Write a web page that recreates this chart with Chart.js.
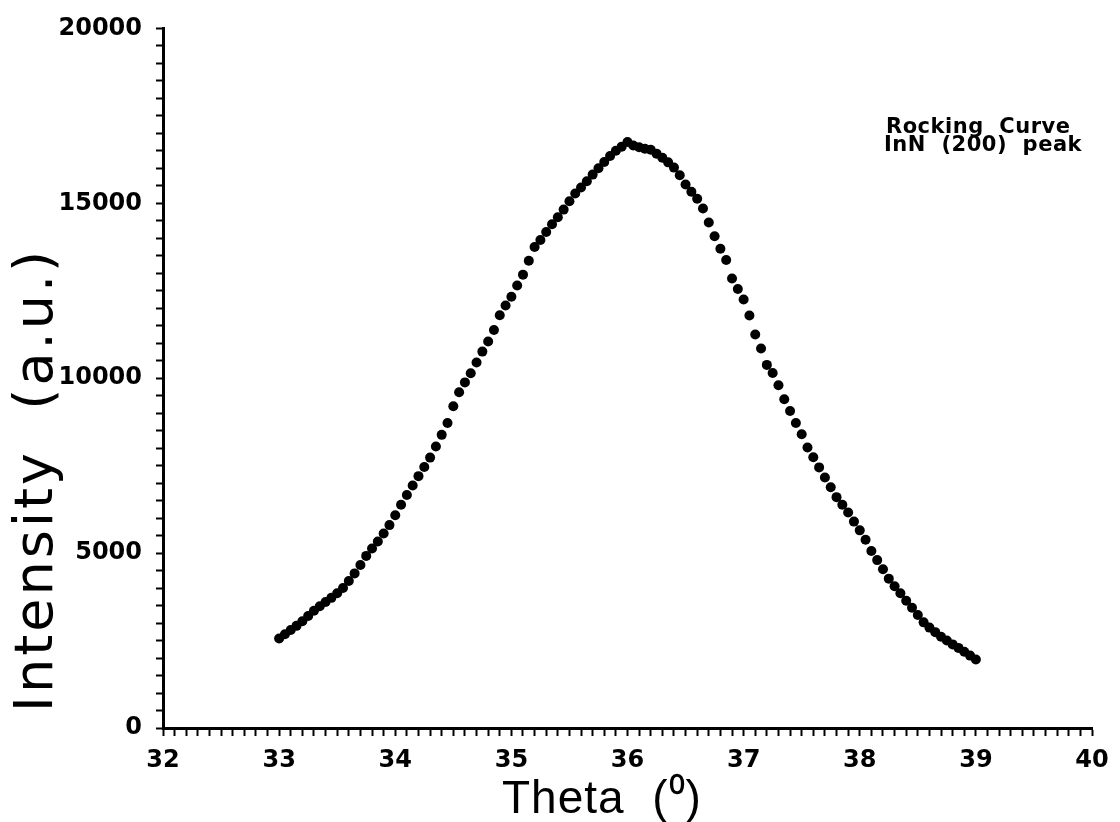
<!DOCTYPE html>
<html>
<head>
<meta charset="utf-8">
<title>Rocking Curve InN (200)</title>
<script src="https://cdn.jsdelivr.net/npm/chart.js@4.4.1/dist/chart.umd.min.js"></script>
<style>
  html, body { margin: 0; padding: 0; background: #fff; }
  #chart { display: block; }
</style>
</head>
<body>
<canvas id="chart" width="1120" height="822"></canvas>
<script>
// measured rocking curve, theta in degrees
const theta = [
  33.00, 33.05, 33.10, 33.15, 33.20, 33.25, 33.30, 33.35, 33.40, 33.45,
  33.50, 33.55, 33.60, 33.65, 33.70, 33.75, 33.80, 33.85, 33.90, 33.95,
  34.00, 34.05, 34.10, 34.15, 34.20, 34.25, 34.30, 34.35, 34.40, 34.45,
  34.50, 34.55, 34.60, 34.65, 34.70, 34.75, 34.80, 34.85, 34.90, 34.95,
  35.00, 35.05, 35.10, 35.15, 35.20, 35.25, 35.30, 35.35, 35.40, 35.45,
  35.50, 35.55, 35.60, 35.65, 35.70, 35.75, 35.80, 35.85, 35.90, 35.95,
  36.00, 36.05, 36.10, 36.15, 36.20, 36.25, 36.30, 36.35, 36.40, 36.45,
  36.50, 36.55, 36.60, 36.65, 36.70, 36.75, 36.80, 36.85, 36.90, 36.95,
  37.00, 37.05, 37.10, 37.15, 37.20, 37.25, 37.30, 37.35, 37.40, 37.45,
  37.50, 37.55, 37.60, 37.65, 37.70, 37.75, 37.80, 37.85, 37.90, 37.95,
  38.00, 38.05, 38.10, 38.15, 38.20, 38.25, 38.30, 38.35, 38.40, 38.45,
  38.50, 38.55, 38.60, 38.65, 38.70, 38.75, 38.80, 38.85, 38.90, 38.95,
  39.00
];

const intensity = [
  2560, 2680, 2800, 2920, 3050, 3200, 3350, 3480, 3600, 3720,
  3850, 4000, 4200, 4420, 4660, 4920, 5130, 5330, 5560, 5800,
  6080, 6380, 6660, 6930, 7200, 7460, 7730, 8050, 8380, 8720,
  9200, 9600, 9880, 10140, 10450, 10760, 11050, 11380, 11800, 12080,
  12330, 12650, 12960, 13360, 13750, 13950, 14180, 14400, 14600, 14820,
  15060, 15280, 15450, 15630, 15820, 16000, 16180, 16350, 16500, 16620,
  16750, 16650, 16600, 16560, 16530, 16420, 16300, 16170, 16020, 15800,
  15540, 15330, 15130, 14850, 14450, 14060, 13700, 13380, 12850, 12550,
  12250, 11790, 11250, 10850, 10380, 10150, 9800, 9400, 9060, 8720,
  8400, 8020, 7740, 7450, 7160, 6880, 6600, 6380, 6160, 5900,
  5650, 5380, 5060, 4800, 4540, 4270, 4050, 3850, 3640, 3440,
  3230, 3020, 2870, 2740, 2610, 2500, 2390, 2290, 2180, 2070,
  1960
];

const xLabels = [32, 33, 34, 35, 36, 37, 38, 39, 40];
const yLabels = [0, 5000, 10000, 15000, 20000];
const noteLines = ['Rocking  Curve', 'InN  (200)  peak'];

const points = theta.map((t, i) => ({ x: t, y: intensity[i] }));

const isLabel = (list, v) => list.some(l => Math.abs(l - v) < 1e-6);

// axis titles and the note in the corner
const textPlugin = {
  id: 'axisText',
  afterDraw(chart) {
    const ctx = chart.ctx;
    const area = chart.chartArea;
    ctx.save();
    ctx.fillStyle = '#000';

    ctx.font = '54px "DejaVu Sans"';
    ctx.letterSpacing = '3px';
    ctx.textAlign = 'left';
    ctx.textBaseline = 'alphabetic';
    ctx.translate(52, area.bottom - 16);
    ctx.rotate(-Math.PI / 2);
    ctx.fillText('Intensity  (a.u.)', 0, 0);
    ctx.setTransform(1, 0, 0, 1, 0, 0);

    ctx.letterSpacing = '1px';
    ctx.font = '46px "Liberation Sans"';
    ctx.fillText('Theta  (\u2070)', 502, 813);

    ctx.font = 'bold 21px "DejaVu Sans"';
    ctx.letterSpacing = '0.5px';
    ctx.fillText(noteLines[0], 886, 133);
    ctx.fillText(noteLines[1], 884, 151);
    ctx.restore();
  }
};

new Chart(document.getElementById('chart').getContext('2d'), {
  type: 'scatter',
  data: {
    datasets: [{
      data: points,
      backgroundColor: '#000',
      borderWidth: 0,
      pointRadius: 5,
      pointHoverRadius: 5
    }]
  },
  options: {
    responsive: false,
    animation: false,
    layout: { padding: { top: 23, right: 28, left: 0, bottom: 0 } },
    plugins: {
      legend: { display: false },
      tooltip: { enabled: false }
    },
    scales: {
      x: {
        type: 'linear',
        min: 32,
        max: 40,
        afterFit(scale) { scale.height = 94; },
        border: { display: true, color: '#000', width: 3 },
        grid: {
          drawOnChartArea: false,
          drawTicks: true,
          tickLength: 8,
          color: '#000',
          tickWidth: 2
        },
        ticks: {
          stepSize: 0.1,
          autoSkip: false,
          maxRotation: 0,
          padding: 10,
          color: '#000',
          font: { family: 'DejaVu Sans', size: 24, weight: 'bold' },
          callback: v => isLabel(xLabels, v) ? String(Math.round(v)) : ''
        }
      },
      y: {
        type: 'linear',
        min: 0,
        max: 20000,
        afterFit(scale) { scale.width = 163; },
        border: { display: true, color: '#000', width: 3 },
        grid: {
          drawOnChartArea: false,
          drawTicks: true,
          tickLength: 7,
          color: '#000',
          tickWidth: 2
        },
        ticks: {
          stepSize: 500,
          autoSkip: false,
          maxTicksLimit: 100,
          padding: 14,
          color: '#000',
          font: { family: 'DejaVu Sans', size: 24, weight: 'bold' },
          callback: v => isLabel(yLabels, v) ? String(v) : ''
        }
      }
    }
  },
  plugins: [textPlugin]
});
</script>
</body>
</html>
